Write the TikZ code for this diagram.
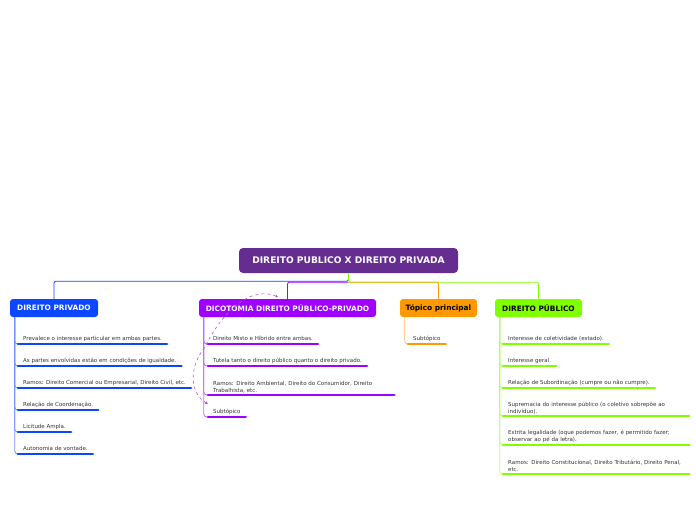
\documentclass[tikz,border=0pt]{standalone}
\usepackage{fontspec}
\setmainfont{DejaVu Sans}
\usetikzlibrary{arrows.meta, positioning}
\definecolor{rootpurple}{HTML}{662D91}
\definecolor{privblue}{HTML}{0A47FF}
\definecolor{dicopurple}{HTML}{A000FF}
\definecolor{topicorange}{HTML}{FF9900}
\definecolor{publime}{HTML}{80FF00}
\definecolor{subgray}{HTML}{333333}

\begin{document}
\begin{tikzpicture}[x=1pt, y=-1pt,
    rootbox/.style={fill=rootpurple, text=white, rounded corners=4pt, minimum width=219pt, minimum height=25pt, inner sep=0pt, font=\fontsize{9.1}{11}\selectfont\bfseries},
    topbox/.style={rounded corners=3pt, minimum height=18pt, inner sep=0pt, font=\fontsize{7.4}{9}\selectfont\bfseries},
    sub/.style={anchor=south west, inner xsep=5pt, inner ysep=2pt, text depth=1.3pt, text=subgray, font=\fontsize{5.5}{7}\selectfont, align=left},
    wide/.style={sub, text width=176pt, text depth={}},
    branch/.style={line width=0.8pt, rounded corners=3pt},
    uline/.style={line width=2.6pt, line cap=round},
    rel/.style={dashed, dicopurple!70, line width=0.6pt, {Stealth[length=3pt,width=3pt]}-{Stealth[length=3pt,width=3pt]}}]
    \useasboundingbox (0,0) rectangle (696,520);

    % Root
    \node[rootbox] (root) at (348.5,260.5) {DIREITO PUBLICO X DIREITO PRIVADA};

    % Main topics
    \node[topbox, fill=privblue, text=white, minimum width=88pt] (priv) at (54,308) {DIREITO PRIVADO};
    \node[topbox, fill=dicopurple, text=white, minimum width=177pt] (dico) at (287.5,308) {DICOTOMIA DIREITO PÚBLICO-PRIVADO};
    \node[topbox, fill=topicorange, text=black, minimum width=77pt] (topico) at (438.5,308) {Tópico principal};
    \node[topbox, fill=publime, text=black, minimum width=87pt] (pub) at (538.5,308) {DIREITO PÚBLICO};

    % Root to main topics
    \draw[privblue, line width=0.8pt, rounded corners=2pt] (root.south) -- ++(0,8) -| (priv.north);
    \draw[publime, line width=0.8pt, rounded corners=2pt] (root.south) -- ++(0,9) -| (pub.north);
    \draw[dicopurple, line width=0.8pt, rounded corners=2pt] (root.south) ++(0,9) -| (dico.north);
    \draw[topicorange, line width=0.8pt, rounded corners=2pt] (root.south) ++(0,9) -| (topico.north);

    % Direito privado
    \node[sub] (priv1) at (18,344) {Prevalece o interesse particular em ambas partes.};
    \node[sub] (priv2) at (18,366) {As partes envolvidas estão em condições de igualdade.};
    \node[sub] (priv3) at (18,388) {Ramos: Direito Comercial ou Empresarial, Direito Civil, etc.};
    \node[sub] (priv4) at (18,410) {Relação de Coordenação.};
    \node[sub] (priv5) at (18,432) {Licitude Ampla.};
    \node[sub] (priv6) at (18,454) {Autonomia de vontade.};
    \draw[branch, privblue!60] ([xshift=5pt]priv.south west) |- (priv6.south west);
    \draw[branch, privblue!60] ([xshift=5pt]priv.south west) |- (priv5.south west);
    \draw[branch, privblue!60] ([xshift=5pt]priv.south west) |- (priv4.south west);
    \draw[branch, privblue!60] ([xshift=5pt]priv.south west) |- (priv3.south west);
    \draw[branch, privblue!60] ([xshift=5pt]priv.south west) |- (priv2.south west);
    \draw[branch, privblue!60] ([xshift=5pt]priv.south west) |- (priv1.south west);
    \draw[uline, privblue] (priv1.south west) -- (priv1.south east);
    \draw[uline, privblue] (priv2.south west) -- (priv2.south east);
    \draw[uline, privblue] (priv3.south west) -- (priv3.south east);
    \draw[uline, privblue] (priv4.south west) -- (priv4.south east);
    \draw[uline, privblue] (priv5.south west) -- (priv5.south east);
    \draw[uline, privblue] (priv6.south west) -- (priv6.south east);

    % Dicotomia
    \node[sub] (dico1) at (208,344) {Direito Misto e Híbrido entre ambas.};
    \node[sub] (dico2) at (208,366) {Tutela tanto o direito público quanto o direito privado.};
    \node[wide] (dico3) at (208,395) {Ramos: Direito Ambiental, Direito do Consumidor, Direito\\Trabalhista, etc.};
    \node[sub] (dico4) at (208,417) {Subtópico};
    \draw[branch, dicopurple!60] ([xshift=5pt]dico.south west) |- (dico4.south west);
    \draw[branch, dicopurple!60] ([xshift=5pt]dico.south west) |- (dico3.south west);
    \draw[branch, dicopurple!60] ([xshift=5pt]dico.south west) |- (dico2.south west);
    \draw[branch, dicopurple!60] ([xshift=5pt]dico.south west) |- (dico1.south west);
    \draw[uline, dicopurple] (dico1.south west) -- (dico1.south east);
    \draw[uline, dicopurple] (dico2.south west) -- (dico2.south east);
    \draw[uline, dicopurple] (dico3.south west) -- (dico3.south east);
    \draw[uline, dicopurple] (dico4.south west) -- (dico4.south east);

    % Relation
    \coordinate (relA) at (208,404);
    \coordinate (relB) at (278,297);
    \draw[rel] (relA) .. controls (188,392) and (190,365) .. (205,347)
        .. controls (215,325) and (245,283) .. (relB);

    % Topico principal
    \node[sub] (top1) at (408,344) {Subtópico};
    \draw[branch, topicorange!60] ([xshift=5pt]topico.south west) |- (top1.south west);
    \draw[uline, topicorange] (top1.south west) -- (top1.south east);

    % Direito publico
    \node[sub] (pub1) at (503,344) {Interesse de coletividade (estado).};
    \node[sub] (pub2) at (503,366) {Interesse geral.};
    \node[sub] (pub3) at (503,388) {Relação de Subordinação (cumpre ou não cumpre).};
    \node[wide] (pub4) at (503,416) {Supremacia do interesse público (o coletivo sobrepõe ao\\indivíduo).};
    \node[wide] (pub5) at (503,445) {Estrita legalidade (oque podemos fazer, é permitido fazer;\\observar ao pé da letra).};
    \node[wide] (pub6) at (503,474) {Ramos: Direito Constitucional, Direito Tributário, Direito Penal,\\etc.};
    \draw[branch, publime!60] ([xshift=5pt]pub.south west) |- (pub6.south west);
    \draw[branch, publime!60] ([xshift=5pt]pub.south west) |- (pub5.south west);
    \draw[branch, publime!60] ([xshift=5pt]pub.south west) |- (pub4.south west);
    \draw[branch, publime!60] ([xshift=5pt]pub.south west) |- (pub3.south west);
    \draw[branch, publime!60] ([xshift=5pt]pub.south west) |- (pub2.south west);
    \draw[branch, publime!60] ([xshift=5pt]pub.south west) |- (pub1.south west);
    \draw[uline, publime] (pub1.south west) -- (pub1.south east);
    \draw[uline, publime] (pub2.south west) -- (pub2.south east);
    \draw[uline, publime] (pub3.south west) -- (pub3.south east);
    \draw[uline, publime] (pub4.south west) -- (pub4.south east);
    \draw[uline, publime] (pub5.south west) -- (pub5.south east);
    \draw[uline, publime] (pub6.south west) -- (pub6.south east);
\end{tikzpicture}
\end{document}
